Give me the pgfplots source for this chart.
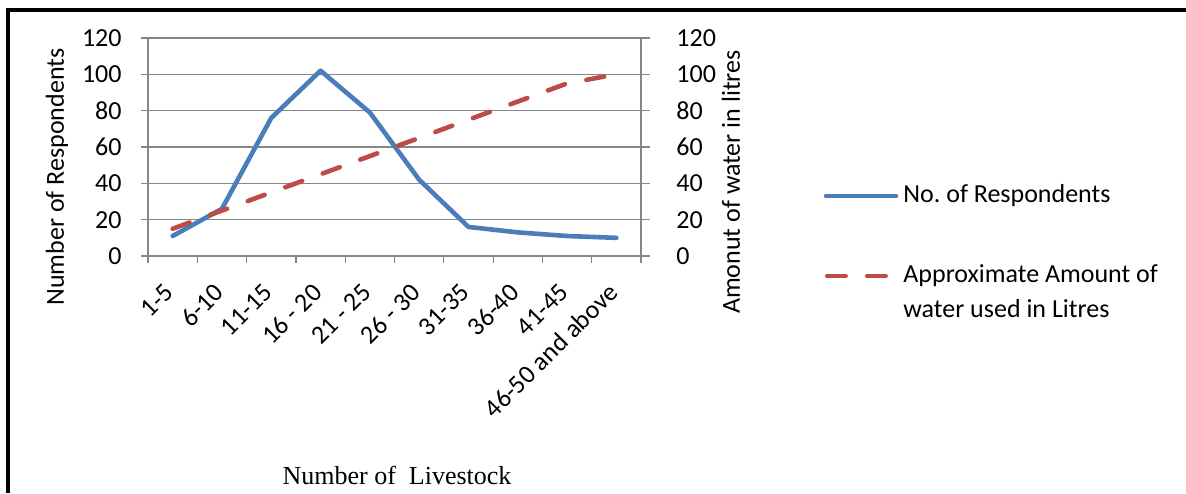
\documentclass[border=0pt]{standalone}
\usepackage{fontspec}
\setmainfont{Carlito}
\newfontfamily\timesfont{Liberation Serif}
\usepackage{pgfplots}
\pgfplotsset{compat=1.18}
\definecolor{serblue}{HTML}{4A7EBB}
\definecolor{serred}{HTML}{BE4B48}
\definecolor{gridgray}{HTML}{868686}

\begin{document}
\fontsize{13}{15.6}\selectfont
\begin{tikzpicture}
\path[use as bounding box] (0pt,0pt) rectangle (593pt,246.5pt);
\draw[line width=1.8pt] (4pt,0pt) -- (4pt,241.5pt) -- (593pt,241.5pt);
\begin{axis}[
  at={(74pt,118.5pt)}, anchor=south west,
  scale only axis, width=246.5pt, height=109pt,
  xmin=-0.5, xmax=9.5, ymin=0, ymax=120,
  xtick={0,...,9},
  xticklabels={1-5,6-10,11-15,16 - 20,21 - 25,26 - 30,31-35,36-40,41-45,46-50 and above},
  minor xtick={-0.5,0.5,...,9.5},
  ytick={0,20,...,120},
  minor ytick={0,20,...,120},
  major tick length=0pt, minor tick length=3.5pt,
  tick align=outside,
  xtick pos=bottom, ytick pos=left,
  ymajorgrids, grid style={gridgray, line width=0.6pt},
  axis line style={gridgray, line width=0.6pt},
  tick style={gridgray, line width=0.6pt},
  /pgf/number format/assume math mode=true,
  tick label style={font=\fontsize{13}{15.6}\selectfont, text=black},
  yticklabel style={inner sep=0pt, anchor=east, xshift=-13pt},
  xticklabel style={inner sep=0pt, xshift=-1.5pt, yshift=-16pt, rotate=45, anchor=east},
]
\addplot[serblue, line width=2.3pt, line cap=round, line join=round] coordinates {
  (0,11) (1,26) (2,76) (3,102) (4,79) (5,42) (6,16) (7,13) (8,11) (9,10)
};
\end{axis}
\begin{axis}[
  at={(74pt,118.5pt)}, anchor=south west,
  scale only axis, width=246.5pt, height=109pt,
  xmin=-0.5, xmax=9.5, ymin=0, ymax=120,
  axis x line=none, axis y line*=right,
  ytick={0,20,...,120},
  tick align=outside, major tick length=4.5pt,
  axis line style={gridgray, line width=0.6pt, -},
  tick style={gridgray, line width=0.6pt},
  /pgf/number format/assume math mode=true,
  tick label style={font=\fontsize{13}{15.6}\selectfont, text=black},
  yticklabel style={inner sep=0pt, anchor=west, xshift=13pt},
]
\addplot[serred, line width=2.3pt, line cap=round, dash pattern=on 9pt off 11pt] coordinates {
  (0,15) (1,25) (2,35) (3,45) (4,55) (5,65) (6,75) (7,85) (8,95) (9,100)
};
\end{axis}
\node[rotate=90] at (28.5pt,158pt) {Number of Respondents};
\node[rotate=90] at (365.5pt,155.5pt) {Amonut of water in litres};
\node[font=\timesfont\fontsize{13}{15.6}\selectfont] at (198.5pt,9pt) {Number of\ \ Livestock};
\draw[serblue, line width=2.3pt, line cap=round] (413pt,148.5pt) -- (448pt,148.5pt);
\node[anchor=west, inner sep=0pt] at (451.5pt,148.5pt) {No.\ of Respondents};
\draw[serred, line width=2.3pt, line cap=round, dash pattern=on 9.2pt off 10.8pt] (413.6pt,108.5pt) -- (442.9pt,108.5pt);
\node[anchor=west, inner sep=0pt] at (451.5pt,108.5pt) {Approximate Amount of};
\node[anchor=west, inner sep=0pt] at (451.5pt,92pt) {water used in Litres};
\end{tikzpicture}
\end{document}
